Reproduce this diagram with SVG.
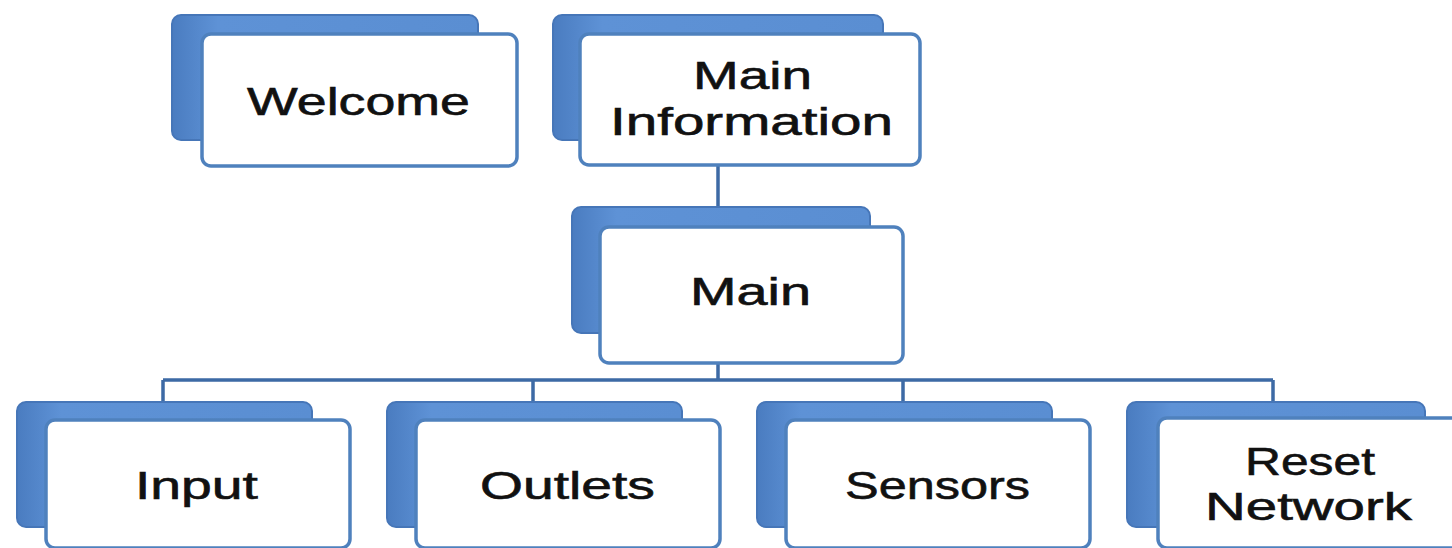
<svg xmlns="http://www.w3.org/2000/svg" width="1452" height="548" viewBox="0 0 1452 548">
<defs>
<linearGradient id="bg" x1="0" y1="0" x2="1" y2="0">
<stop offset="0" stop-color="#4A7CC0"/>
<stop offset="0.15" stop-color="#5E92D6"/>
<stop offset="1" stop-color="#5A8ED2"/>
</linearGradient>
<style>
.back{fill:url(#bg);stroke:#4676B8;stroke-width:2}
.front{fill:#FFFFFF;stroke:#4F81BD;stroke-width:3.5}
.t{font-family:"Liberation Sans",Arial,sans-serif;font-size:39px;fill:#111111;stroke:#111111;stroke-width:0.6;text-anchor:start}
.conn{fill:none;stroke:#3D6AA5;stroke-width:3.5}
</style>
</defs>
<rect width="1452" height="548" fill="#FFFFFF"/>
<g id="connectors">
<path class="conn" d="M718 165 V207"/>
<path class="conn" d="M718 363 V380 M163 380 H1273 M163 380 V402 M533 380 V402 M903 380 V402 M1273 380 V402"/>
</g>
<g id="node-welcome">
<rect class="back" x="172" y="15" width="306" height="125" rx="9"/>
<rect class="front" x="202" y="34" width="315" height="132" rx="9"/>
<text class="t" x="247" y="115" textLength="223" lengthAdjust="spacingAndGlyphs">Welcome</text>
</g>
<g id="node-main-information">
<rect class="back" x="553" y="15" width="330" height="125" rx="9"/>
<rect class="front" x="580" y="34" width="340" height="131" rx="9"/>
<text class="t"><tspan x="693" y="89" textLength="119" lengthAdjust="spacingAndGlyphs">Main</tspan><tspan x="610" y="135" textLength="283" lengthAdjust="spacingAndGlyphs">Information</tspan></text>
</g>
<g id="node-main">
<rect class="back" x="572" y="207" width="298" height="126" rx="9"/>
<rect class="front" x="600" y="227" width="303" height="136" rx="9"/>
<text class="t" x="690" y="305" textLength="121" lengthAdjust="spacingAndGlyphs">Main</text>
</g>
<g id="node-input">
<rect class="back" x="17" y="402" width="295" height="125" rx="9"/>
<rect class="front" x="46" y="420" width="304" height="128" rx="9"/>
<text class="t" x="135" y="499" textLength="123" lengthAdjust="spacingAndGlyphs">Input</text>
</g>
<g id="node-outlets">
<rect class="back" x="387" y="402" width="295" height="125" rx="9"/>
<rect class="front" x="416" y="420" width="304" height="128" rx="9"/>
<text class="t" x="480" y="499" textLength="175" lengthAdjust="spacingAndGlyphs">Outlets</text>
</g>
<g id="node-sensors">
<rect class="back" x="757" y="402" width="295" height="125" rx="9"/>
<rect class="front" x="786" y="420" width="304" height="128" rx="9"/>
<text class="t" x="845" y="499" textLength="185" lengthAdjust="spacingAndGlyphs">Sensors</text>
</g>
<g id="node-reset-network">
<rect class="back" x="1127" y="402" width="298" height="125" rx="9"/>
<rect class="front" x="1158" y="418" width="304" height="130" rx="9"/>
<text class="t"><tspan x="1245" y="475" textLength="130" lengthAdjust="spacingAndGlyphs">Reset</tspan><tspan x="1205" y="520" textLength="207" lengthAdjust="spacingAndGlyphs">Network</tspan></text>
</g>
</svg>
